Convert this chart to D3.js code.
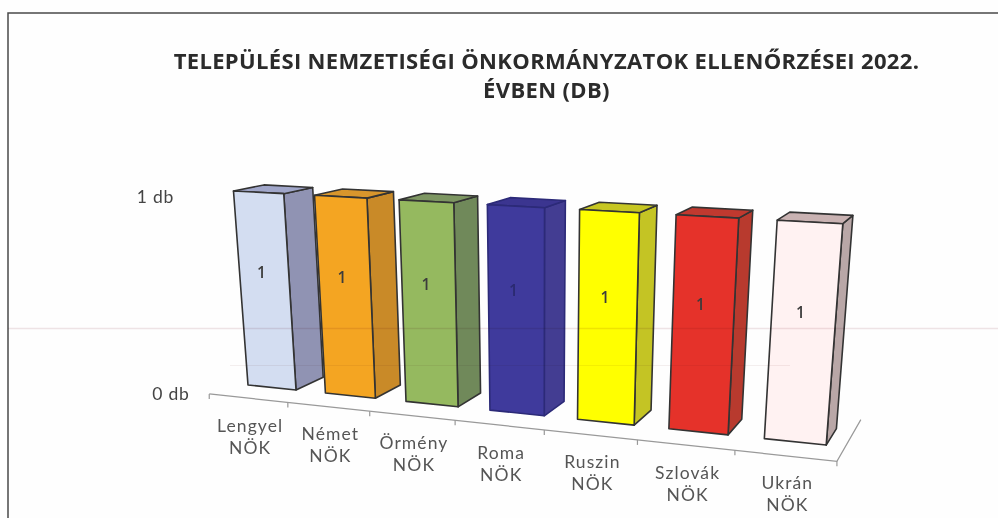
<!DOCTYPE html>
<html><head><meta charset="utf-8">
<script src="https://cdn.jsdelivr.net/npm/d3@7"></script>
<style>html,body{margin:0;padding:0;background:#fff}svg{display:block;filter:blur(0.45px)}</style>
</head><body><svg id="c" width="998" height="518"></svg>
<script>
const titleLines = ["TELEPÜLÉSI NEMZETISÉGI ÖNKORMÁNYZATOK ELLENŐRZÉSEI 2022.", "ÉVBEN (DB)"];
const categories = ["Lengyel", "Német", "Örmény", "Roma", "Ruszin", "Szlovák", "Ukrán"];
const suffix = "NÖK";
const values = [1, 1, 1, 1, 1, 1, 1];
const yTicks = [0, 1];
const frontColors = ["#d3ddf1", "#f4a522", "#95b95f", "#3f3a9c", "#ffff00", "#e5322a", "#fff2f2"];
const sideColors  = ["#9093b3", "#c98a28", "#70895a", "#433d92", "#c4c424", "#b83a2e", "#b9a7a7"];
const topColors   = ["#a0a6c9", "#d8962c", "#7d9662", "#3b3590", "#c6c622", "#c0392f", "#c9b2b2"];

const svg = d3.select("#c");
const ink = "#333";

// World scales: X along categories, Y up, Z into the chart
const x = d3.scaleBand().domain(categories).range([-0.1875, 6.8125]).paddingInner(0.375).paddingOuter(0.1875);
const y = d3.scaleLinear().domain([0, 1]).range([0, 1]);
const depth = 1, axisZ = -0.8, floorZ = 1.7;

// Perspective projection of the tilted 3D chart
function project(X, Y, Z) {
  const w = 1 - 0.0197 * X - 0.0475 * Y + 0.035 * Z;
  return [(248 + 71 * X - 25.6 * Y + 38.15 * Z) / w,
          (385 + 0.3 * X - 203.1 * Y + 0.7 * Z) / w];
}
const line = d3.line();
const poly = pts => line(pts.map(p => project(...p))) + "Z";

svg.append("rect").attr("width", 998).attr("height", 518).attr("fill", "#fefefe");

// frame: left and top edges only, the scan cuts the others
svg.append("path").attr("d", "M8,518V13H998").attr("fill", "none").attr("stroke", "#4a4a4a").attr("stroke-width", 1.5);

// floor axis
const axisG = svg.append("g").attr("fill", "none").attr("stroke", "#999").attr("stroke-width", 1.2);
const xEnds = x.range();
axisG.append("path").attr("d", line([
  project(xEnds[0], 0, axisZ), project(xEnds[1], 0, axisZ), project(xEnds[1], 0, floorZ)]));
const tickPos = [xEnds[0]].concat(categories.map(c => x(c) + x.bandwidth() + x.step() * x.paddingInner() / 2));
tickPos.forEach(t => {
  const [px, py] = project(t, 0, axisZ);
  axisG.append("line").attr("x1", px).attr("x2", px).attr("y1", py).attr("y2", py + 5);
});

// bars
categories.forEach((c, i) => {
  const x0 = x(c), x1 = x0 + x.bandwidth(), Y = y(values[i]);
  const g = svg.append("g").attr("stroke", i === 3 ? "#2c2a78" : ink).attr("stroke-width", 1.6).attr("stroke-linejoin", "round");
  g.append("path").attr("fill", sideColors[i]).attr("d", poly([[x1,0,0],[x1,Y,0],[x1,Y,depth],[x1,0,depth]]));
  g.append("path").attr("fill", topColors[i]).attr("d", poly([[x0,Y,0],[x1,Y,0],[x1,Y,depth],[x0,Y,depth]]));
  g.append("path").attr("fill", frontColors[i]).attr("d", poly([[x0,0,0],[x1,0,0],[x1,Y,0],[x0,Y,0]]));
  const [lx, ly] = project(x0 + x.bandwidth() * 0.45, y(0.605 * values[i]), 0);
  svg.append("text").attr("x", lx).attr("y", ly + 6).attr("text-anchor", "middle")
     .attr("font-family", "'Open Sans'").attr("font-weight", 600).attr("font-size", 15.5).attr("fill", i === 3 ? "#2b2a70" : "#3c3c3c").text(values[i]);
});

// faint scan streaks, passing over everything
[[8, 998, 328.5, "#efe4e6", 1.5], [230, 790, 365.5, "#f4efef", 1]].forEach(([a, b, h, col, sw]) => {
  svg.append("line").attr("x1", a).attr("x2", b).attr("y1", h).attr("y2", h)
     .attr("stroke", col).attr("stroke-width", sw).style("mix-blend-mode", "multiply");
});

// category labels: two separate lines per category
const labelFont = "Lato";
categories.forEach(c => {
  const [lx, ly] = project(x(c) + x.bandwidth() / 2, 0, axisZ);
  [[c, 33.5], [suffix, 55.5]].forEach(([txt, dy]) => {
    svg.append("text").attr("text-anchor", "middle").attr("font-family", labelFont)
       .attr("font-size", 17.5).attr("letter-spacing", 1.1).attr("fill", "#555")
       .attr("x", lx + 2).attr("y", ly + dy).text(txt);
  });
});

// value axis labels
const yPix = d3.scaleLinear().domain([0, 1]).range([400, 203]);
svg.selectAll("text.yt").data(yTicks).join("text").attr("class", "yt")
   .attr("x", v => v === 1 ? 155.5 : 171).attr("y", yPix).attr("text-anchor", "middle")
   .attr("font-family", labelFont).attr("font-size", 17.5).attr("letter-spacing", 0.8).attr("fill", "#444").text(v => v + " db");

// title
svg.selectAll("text.ti").data(titleLines).join("text").attr("class", "ti")
   .attr("x", 546.5).attr("y", (d, i) => 69 + i * 29).attr("text-anchor", "middle")
   .attr("font-family", "'Open Sans'").attr("font-weight", 700).attr("font-size", 22).attr("letter-spacing", 0.35).attr("fill", "#2b2b2b").text(d => d);
</script></body></html>
